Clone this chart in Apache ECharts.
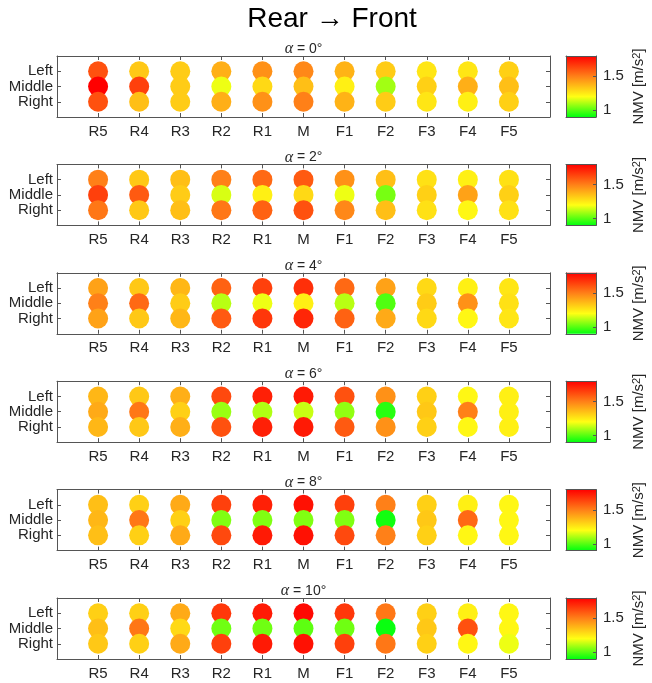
<!DOCTYPE html>
<html><head><meta charset="utf-8">
<script src="https://cdn.jsdelivr.net/npm/echarts@6/dist/echarts.min.js"></script>
<style>html,body{margin:0;padding:0;background:#fff}#c{width:652px;height:683px}</style>
</head><body><div id="c"></div>
<script>
// ---------- data ----------
const xLabels = ['R5','R4','R3','R2','R1','M','F1','F2','F3','F4','F5'];
const yLabels = ['Right','Middle','Left'];
const angles = [0, 2, 4, 6, 8, 10];
const cbTicks = [1, 1.5];
const nmvMin = 0.9, nmvMax = 1.8;
const colormap = ['#00ff10', '#ffff14', '#ff8018', '#ff0000'];

const a0Left   = [1.61,1.33,1.32,1.39,1.46,1.48,1.38,1.32,1.26,1.26,1.31];
const a0Middle = [1.80,1.65,1.32,1.18,1.29,1.35,1.235,1.09,1.31,1.39,1.35];
const a0Right  = [1.61,1.35,1.32,1.39,1.46,1.50,1.38,1.32,1.26,1.235,1.31];

const a2Left   = [1.50,1.33,1.35,1.50,1.555,1.59,1.46,1.35,1.27,1.235,1.27];
const a2Middle = [1.65,1.59,1.32,1.154,1.235,1.29,1.18,1.04,1.31,1.42,1.31];
const a2Right  = [1.52,1.33,1.35,1.52,1.57,1.61,1.48,1.35,1.27,1.22,1.27];

const a4Left   = [1.42,1.33,1.37,1.57,1.65,1.69,1.555,1.42,1.29,1.235,1.26];
const a4Middle = [1.50,1.555,1.32,1.116,1.18,1.235,1.116,0.994,1.32,1.46,1.27];
const a4Right  = [1.42,1.33,1.37,1.59,1.67,1.71,1.57,1.40,1.29,1.22,1.26];

const a6Left   = [1.37,1.33,1.39,1.63,1.725,1.74,1.61,1.46,1.31,1.22,1.235];
const a6Middle = [1.40,1.52,1.31,1.08,1.107,1.135,1.07,0.947,1.33,1.50,1.235];
const a6Right  = [1.37,1.33,1.39,1.61,1.725,1.74,1.59,1.46,1.31,1.22,1.235];

const a8Left   = [1.35,1.31,1.40,1.65,1.725,1.76,1.65,1.50,1.31,1.235,1.22];
const a8Middle = [1.37,1.52,1.31,1.05,1.05,1.05,1.05,0.92,1.33,1.555,1.22];
const a8Right  = [1.35,1.31,1.40,1.63,1.74,1.76,1.63,1.50,1.31,1.22,1.22];

const a10Left   = [1.31,1.31,1.40,1.67,1.74,1.78,1.67,1.52,1.31,1.235,1.22];
const a10Middle = [1.35,1.52,1.29,1.03,1.03,1.01,1.03,0.91,1.33,1.61,1.22];
const a10Right  = [1.33,1.31,1.40,1.65,1.74,1.76,1.65,1.52,1.31,1.22,1.18];

const panels = [
  [a0Left, a0Middle, a0Right],
  [a2Left, a2Middle, a2Right],
  [a4Left, a4Middle, a4Right],
  [a6Left, a6Middle, a6Right],
  [a8Left, a8Middle, a8Right],
  [a10Left, a10Middle, a10Right]
];

// ---------- build ----------
const FONT = '"Liberation Sans", Arial, Helvetica, sans-serif';
const TXT = '#262626';
const LINE = '#555555';
const boxLeft = 57, boxW = 493, boxH = 61, top0 = 56, step = 108.4;
const cbLeft = 566, cbW = 30;
const xTicks = xLabels.map((_, k) => k + 1);
const yTicks = yLabels.map((_, k) => k + 1);

const grids = [], xAxes = [], yAxes = [], series = [], titles = [];
const scatterIdx = [];

titles.push({
  text: 'Rear \u2192 Front', left: 332, top: 5, textAlign: 'center', padding: 0,
  textStyle: { fontFamily: FONT, fontSize: 28, fontWeight: 'normal', color: '#000' }
});

const gradStops = colormap.map((c, k) => ({ offset: k / (colormap.length - 1), color: c }));

panels.forEach((rows, i) => {
  const top = top0 + i * step;
  grids.push({ left: boxLeft, top: top, width: boxW, height: boxH });
  grids.push({ left: cbLeft, top: top, width: cbW, height: boxH });
  const gMain = 2 * i, gCb = 2 * i + 1;
  const ax = 4 * i;

  titles.push({
    text: '{a|\u03b1} = ' + angles[i] + '\u00b0',
    left: boxLeft + boxW / 2, top: top - 15, textAlign: 'center', padding: 0,
    textStyle: {
      fontFamily: FONT, fontSize: 14, fontWeight: 'normal', color: TXT,
      rich: { a: { fontFamily: '"Liberation Serif", serif', fontStyle: 'italic', fontSize: 16, color: TXT } }
    }
  });

  const lineCfg = { show: true, onZero: false, lineStyle: { color: LINE, width: 1 } };
  // main x axes
  xAxes.push({
    gridIndex: gMain, type: 'value', min: 0, max: xLabels.length + 1, interval: 1, position: 'bottom',
    axisLine: lineCfg,
    axisTick: { show: true, inside: true, length: 4, customValues: xTicks, lineStyle: { color: LINE } },
    axisLabel: { customValues: xTicks, formatter: v => xLabels[v - 1] || '', color: TXT, fontSize: 15, fontFamily: FONT, margin: 7 },
    splitLine: { show: false }
  });
  xAxes.push({
    gridIndex: gMain, type: 'value', min: 0, max: xLabels.length + 1, interval: 1, position: 'top',
    axisLine: lineCfg,
    axisTick: { show: true, inside: true, length: 4, customValues: xTicks, lineStyle: { color: LINE } },
    axisLabel: { show: false }, splitLine: { show: false }
  });
  // colorbar x axes
  xAxes.push({
    gridIndex: gCb, type: 'category', data: ['cb'], position: 'bottom', z: 5,
    axisLine: lineCfg, axisTick: { show: false }, axisLabel: { show: false }
  });
  xAxes.push({
    gridIndex: gCb, type: 'category', data: ['cb'], position: 'top', z: 5,
    axisLine: lineCfg, axisTick: { show: false }, axisLabel: { show: false }
  });
  // main y axes
  yAxes.push({
    gridIndex: gMain, type: 'value', min: 0, max: yLabels.length + 1, interval: 1, position: 'left',
    axisLine: lineCfg,
    axisTick: { show: true, inside: true, length: 4, customValues: yTicks, lineStyle: { color: LINE } },
    axisLabel: { customValues: yTicks, formatter: v => yLabels[v - 1] || '', color: TXT, fontSize: 15, fontFamily: FONT, margin: 4 },
    splitLine: { show: false }
  });
  yAxes.push({
    gridIndex: gMain, type: 'value', min: 0, max: yLabels.length + 1, interval: 1, position: 'right',
    axisLine: lineCfg,
    axisTick: { show: true, inside: true, length: 4, customValues: yTicks, lineStyle: { color: LINE } },
    axisLabel: { show: false }, splitLine: { show: false }
  });
  // colorbar y axes
  yAxes.push({
    gridIndex: gCb, type: 'value', min: nmvMin, max: nmvMax, position: 'right', z: 5,
    axisLine: lineCfg,
    axisTick: { show: true, inside: true, length: 3, customValues: cbTicks, lineStyle: { color: LINE } },
    axisLabel: { customValues: cbTicks, formatter: v => String(v), color: TXT, fontSize: 15, fontFamily: FONT, margin: 7 },
    splitLine: { show: false },
    name: 'NMV [m/s{s|2}]', nameLocation: 'middle', nameRotate: 90, nameGap: 35,
    nameTextStyle: {
      fontFamily: FONT, fontSize: 15, color: TXT,
      rich: { s: { fontFamily: FONT, fontSize: 11, color: TXT, verticalAlign: 'top' } }
    }
  });
  yAxes.push({
    gridIndex: gCb, type: 'value', min: nmvMin, max: nmvMax, position: 'left', z: 5,
    axisLine: lineCfg, axisTick: { show: false }, axisLabel: { show: false }, splitLine: { show: false }
  });

  // scatter: Left first, then Middle, then Right (later drawn on top)
  const data = [];
  rows.forEach((vals, r) => {
    const yv = yLabels.length - r; // Left=3, Middle=2, Right=1
    vals.forEach((v, j) => data.push([j + 1, yv, v]));
  });
  scatterIdx.push(series.length);
  series.push({
    type: 'scatter', xAxisIndex: ax, yAxisIndex: ax, symbol: 'circle', symbolSize: 20,
    data: data, silent: true, itemStyle: { opacity: 1 }
  });

  // colorbar as a stacked bar filled with the colormap
  series.push({
    type: 'bar', xAxisIndex: ax + 2, yAxisIndex: ax + 2, stack: 'cb' + i, barWidth: '100%',
    data: [nmvMin], itemStyle: { color: 'rgba(0,0,0,0)' }, silent: true
  });
  series.push({
    type: 'bar', xAxisIndex: ax + 2, yAxisIndex: ax + 2, stack: 'cb' + i, barWidth: '100%',
    data: [nmvMax - nmvMin], silent: true,
    itemStyle: { color: new echarts.graphic.LinearGradient(0, 1, 0, 0, gradStops) }
  });
});

const chart = echarts.init(document.getElementById('c'), null, { renderer: 'canvas' });
chart.setOption({
  animation: false,
  backgroundColor: '#fff',
  title: titles,
  grid: grids,
  xAxis: xAxes,
  yAxis: yAxes,
  visualMap: [{
    type: 'continuous', show: false, min: nmvMin, max: nmvMax, dimension: 2,
    seriesIndex: scatterIdx, inRange: { color: colormap }
  }],
  series: series
});
</script>
</body></html>
